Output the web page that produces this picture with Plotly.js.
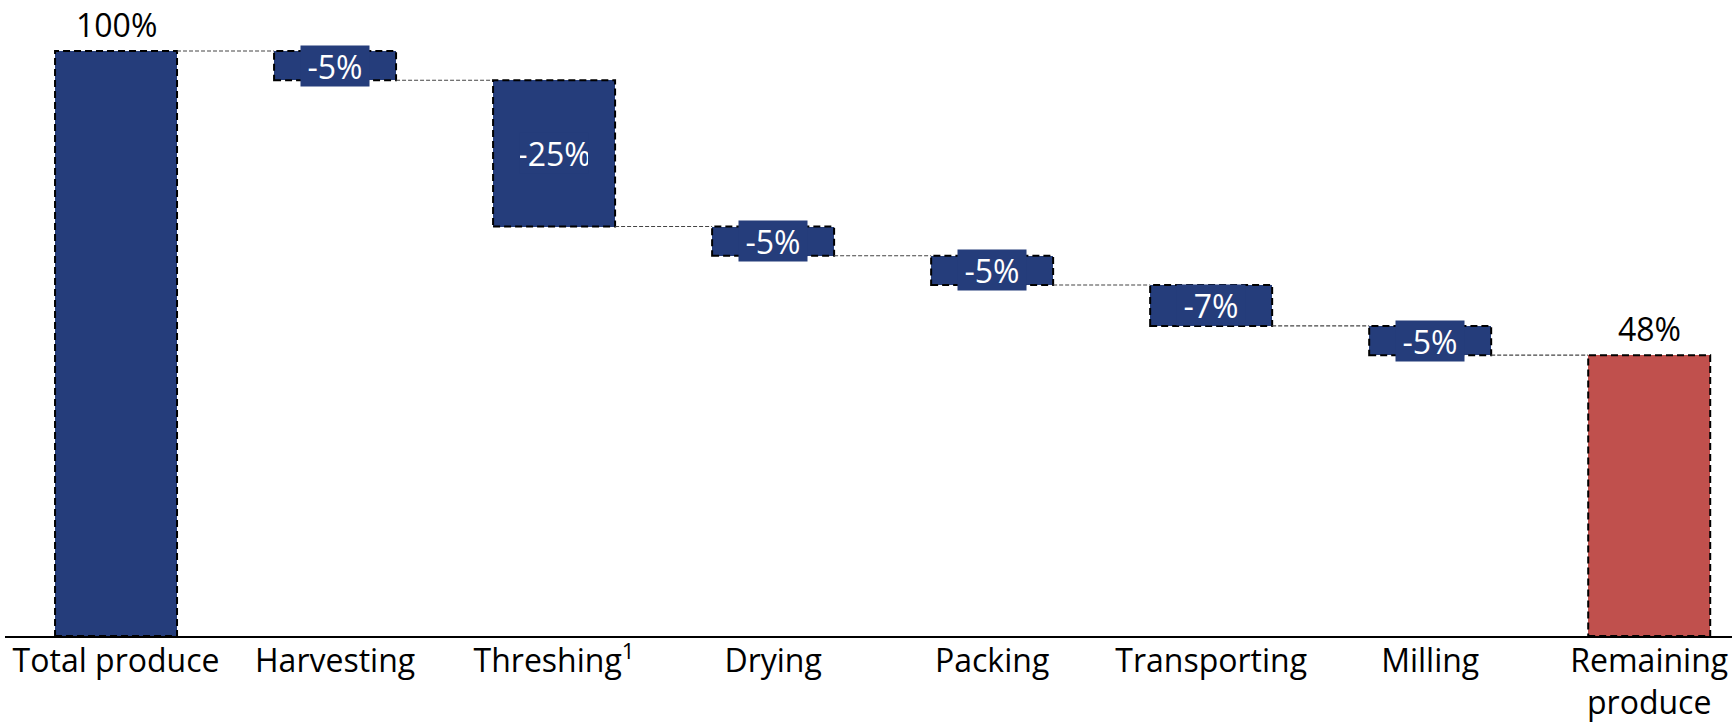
<!DOCTYPE html>
<html>
<head>
<meta charset="utf-8">
<script src="https://cdn.plot.ly/plotly-3.0.1.min.js"></script>
<style>
html,body{margin:0;padding:0;background:#fff;}
#chart{width:1732px;height:723px;}
</style>
</head>
<body>
<div id="chart"></div>
<script>
// ---- data ----
const categories = ['Total produce', 'Harvesting', 'Threshing<sup>1</sup>', 'Drying', 'Packing', 'Transporting', 'Milling', 'Remaining<br>produce'];
const values = [100, -5, -25, -5, -5, -7, -5, 48];
const measures = ['absolute', 'relative', 'relative', 'relative', 'relative', 'relative', 'relative', 'total'];

// ---- style ----
const BLUE = '#253D7B';
const RED = '#C0504D';
const FONT = 'Open Sans, Arial, sans-serif';
const FS = 32;
const BARW = 0.557;

// compute bar geometry from data
const idx = categories.map((_, i) => i);
const bases = [], heights = [], colors = [], levelsAfter = [];
let running = 0;
values.forEach((v, i) => {
  if (measures[i] === 'absolute' || measures[i] === 'total') {
    bases.push(0); heights.push(v); running = v;
    colors.push(measures[i] === 'total' ? RED : BLUE);
  } else {
    const after = running + v;
    bases.push(Math.min(running, after));
    heights.push(Math.abs(v));
    running = after;
    colors.push(BLUE);
  }
  levelsAfter.push(running);
});

const shapes = [];
const annotations = [];
idx.forEach(i => {
  // dashed border around each bar
  shapes.push({
    type: 'rect', xref: 'x', yref: 'y',
    x0: i - BARW / 2, x1: i + BARW / 2,
    y0: bases[i], y1: bases[i] + heights[i],
    line: {color: '#000', width: 2, dash: '7px,4px'},
    fillcolor: 'rgba(0,0,0,0)', layer: 'above'
  });
  // connector to the next bar
  if (i < idx.length - 1) {
    shapes.push({
      type: 'line', xref: 'x', yref: 'y',
      x0: i + BARW / 2, x1: i + 1 - BARW / 2,
      y0: levelsAfter[i], y1: levelsAfter[i],
      line: {color: '#444', width: 1.2, dash: '4px,2px'}
    });
  }
  if (measures[i] === 'relative') {
    annotations.push({
      x: i, y: bases[i] + heights[i] / 2, xref: 'x', yref: 'y',
      text: values[i] + '%', showarrow: false,
      font: {family: FONT, size: FS, color: '#fff'},
      bgcolor: BLUE, width: 68, height: 40, borderpad: 0,
      xanchor: 'center', yanchor: 'middle'
    });
  } else {
    annotations.push({
      x: i, y: heights[i], xref: 'x', yref: 'y',
      text: values[i] + '%', showarrow: false,
      font: {family: FONT, size: FS, color: '#000'},
      xanchor: 'center', yanchor: 'bottom', yshift: 3
    });
  }
});

const trace = {
  type: 'bar',
  x: idx, y: heights, base: bases,
  width: BARW,
  marker: {color: colors, line: {width: 0}},
  hoverinfo: 'skip'
};

const layout = {
  width: 1732, height: 723,
  margin: {l: 5, r: 0, t: 0, b: 87},
  paper_bgcolor: '#fff', plot_bgcolor: '#fff',
  showlegend: false,
  font: {family: FONT, size: FS, color: '#000'},
  xaxis: {
    range: [-0.507, 7.378],
    tickvals: idx, ticktext: categories,
    showgrid: false, zeroline: false,
    showline: true, linecolor: '#000', linewidth: 2,
    ticks: '', ticklen: 0, ticklabelstandoff: -4,
    tickfont: {family: FONT, size: FS, color: '#000'},
    fixedrange: true
  },
  yaxis: {
    range: [0, 108.72],
    showgrid: false, zeroline: false, showline: false,
    showticklabels: false, ticks: '', fixedrange: true
  },
  shapes: shapes,
  annotations: annotations,
  bargap: 0
};

Plotly.newPlot('chart', [trace], layout, {displayModeBar: false, staticPlot: true});
</script>
</body>
</html>
